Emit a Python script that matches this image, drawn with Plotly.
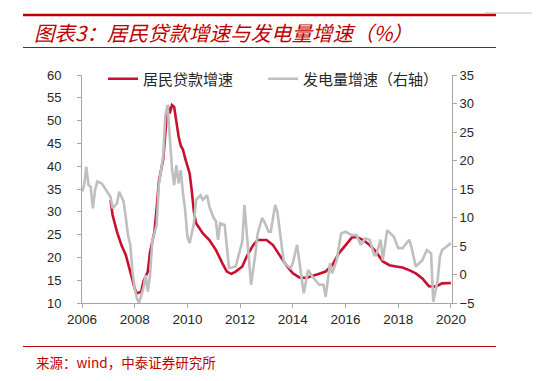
import plotly.graph_objects as go

# ---- data ----
loan_months = ["2007-02","2007-03","2007-05","2007-07","2007-09","2007-11","2008-01","2008-02","2008-04","2008-05",
               "2008-07","2008-08","2008-10","2008-11","2008-12","2009-02","2009-03","2009-04","2009-05","2009-06",
               "2009-07","2009-08","2009-09","2009-10","2009-11","2009-12","2010-02","2010-03","2010-04","2010-05",
               "2010-08","2010-11","2011-02","2011-05","2011-07","2011-09","2011-11","2012-02","2012-04","2012-07",
               "2012-09","2013-01","2013-04","2013-07","2013-10","2014-01","2014-04","2014-07","2014-10","2015-01",
               "2015-04","2015-07","2015-10","2016-01","2016-04","2016-06","2016-09","2016-12","2017-03","2017-06",
               "2017-09","2017-12","2018-03","2018-06","2018-09","2018-12","2019-03","2019-06","2019-09","2020-01"]
loan_growth = [32.6,29.3,25.6,22.7,20.5,16.9,13.2,12.1,12.5,14.7,
               16.9,21.2,25.6,30.8,36.6,41.7,48.3,53.4,51.6,53.4,
               53.0,49.4,46.5,44.5,43.6,41.7,38.4,34.8,30.0,27.5,
               25.3,23.8,21.6,18.7,16.9,16.4,16.9,18.0,20.2,22.7,
               23.8,23.8,22.7,20.5,18.3,16.5,15.6,15.5,15.9,16.4,
               16.9,18.3,20.9,22.7,24.4,24.5,23.8,22.7,21.2,19.1,
               18.3,18.0,17.8,17.2,16.5,15.4,13.7,13.6,14.3,14.4]

power_months = ["2006-01","2006-02","2006-03","2006-04","2006-05","2006-06","2006-07","2006-08","2006-10","2006-12",
                "2007-02","2007-03","2007-05","2007-06","2007-08","2007-09","2007-10","2007-11","2007-12","2008-01",
                "2008-02","2008-03","2008-05","2008-06","2008-07","2008-08","2008-09","2008-11","2008-12","2009-02",
                "2009-03","2009-04","2009-05","2009-06","2009-07","2009-08","2009-09","2009-10","2009-11","2009-12",
                "2010-01","2010-02","2010-04","2010-05","2010-07","2010-08","2010-10","2010-11","2011-01","2011-02",
                "2011-03","2011-04","2011-06","2011-07","2011-08","2011-11","2012-02","2012-03","2012-05","2012-06",
                "2012-08","2012-09","2012-11","2012-12","2013-02","2013-03","2013-05","2013-06","2013-08","2013-09",
                "2013-12","2014-01","2014-03","2014-04","2014-06","2014-08","2014-10","2015-01","2015-03","2015-04",
                "2015-06","2015-07","2015-09","2015-11","2016-01","2016-04","2016-06","2016-08","2016-10","2016-12",
                "2017-02","2017-03","2017-05","2017-06","2017-08","2017-11","2018-01","2018-03","2018-06","2018-07",
                "2018-09","2018-12","2019-02","2019-04","2019-05","2019-07","2019-08","2019-09","2019-11","2020-01"]
power_growth = [14.5,15.7,18.9,15.7,15.4,11.6,14.8,16.3,16.0,14.8,
                13.6,11.6,12.5,14.5,12.8,9.9,6.9,5.2,0.5,-2.4,
                -4.2,-5.0,-2.4,-0.1,-3.0,-0.1,5.8,8.7,15.7,21.0,
                28.0,29.7,23.3,18.6,15.7,19.2,16.0,18.3,14.2,11.3,
                6.6,5.5,9.0,13.1,13.9,13.1,13.9,11.9,9.9,9.3,
                6.1,9.0,8.7,4.3,1.1,1.4,5.8,12.2,3.7,-1.8,
                3.7,7.2,9.9,9.3,7.5,7.5,12.2,11.0,4.9,2.0,
                1.1,2.0,5.2,2.0,-3.3,0.8,-0.4,-1.8,-1.8,-3.9,
                2.0,0.2,2.5,7.2,7.5,6.9,6.9,5.2,6.3,6.1,
                3.4,3.4,6.1,2.5,7.8,6.6,4.6,4.6,6.1,4.9,
                1.4,2.5,4.3,3.7,-4.8,-1.0,3.1,4.3,4.9,5.5]

series_names = ["居民贷款增速", "发电量增速（右轴）"]
title_text = "图表3：居民贷款增速与发电量增速（%）"
source_text = "来源：wind，中泰证券研究所"

RED = "#C8102E"
GRAY = "#BFBFBF"
AXIS = "#A6A6A6"
TXT_RED = "#C00000"
CJK = "Noto Sans CJK SC"
NUM = "Liberation Sans, Arial, sans-serif"

fig = go.Figure()
fig.add_trace(go.Scatter(x=loan_months, y=loan_growth, name=series_names[0], mode="lines",
                         line=dict(color=RED, width=2.6), yaxis="y", legend="legend"))
fig.add_trace(go.Scatter(x=power_months, y=power_growth, name=series_names[1], mode="lines",
                         line=dict(color=GRAY, width=2.6), yaxis="y2", legend="legend2"))

axis_common = dict(showgrid=False, zeroline=False, showline=True, linecolor=AXIS, linewidth=1,
                   ticks="outside", ticklen=4, tickcolor=AXIS)
tick_font = dict(family=NUM, size=13, color="#262626")
legend_font = dict(family=CJK, size=15, color="#262626")


# reference pixel -> paper coords relative to plot domain
def px_x(px):
    return (px - 82) / 370.0


def px_y(py):
    return (303 - py) / 228.0


# the page body has an 8px margin, so the figure is 8px smaller and shifted
fig.update_layout(
    width=532, height=373,
    margin=dict(l=74, r=88, t=67, b=78, autoexpand=False),
    paper_bgcolor="white", plot_bgcolor="white",
    showlegend=True,
    legend=dict(orientation="h", x=px_x(103), y=px_y(79), xanchor="left", yanchor="middle",
                font=legend_font, bgcolor="rgba(0,0,0,0)", itemwidth=30),
    legend2=dict(orientation="h", x=px_x(263), y=px_y(79), xanchor="left", yanchor="middle",
                 font=legend_font, bgcolor="rgba(0,0,0,0)", itemwidth=30),
    xaxis=dict(type="date", range=["2006-01-01", "2020-01-16"], tick0="2006-01-01", dtick="M24",
               tickformat="%Y", tickfont=dict(family=NUM, size=13.5, color="#262626"), **axis_common),
    yaxis=dict(range=[10, 60], dtick=5, tickfont=tick_font, ticklabelstandoff=13, **axis_common),
    yaxis2=dict(range=[-5, 35], dtick=5, overlaying="y", side="right", tickfont=tick_font, **axis_common),
)

fig.add_shape(type="line", xref="paper", yref="paper", x0=px_x(23), x1=px_x(496), y0=px_y(15), y1=px_y(15),
              line=dict(color=TXT_RED, width=2.5))
fig.add_shape(type="line", xref="paper", yref="paper", x0=px_x(23), x1=px_x(496), y0=px_y(47.5), y1=px_y(47.5),
              line=dict(color=TXT_RED, width=1))
fig.add_shape(type="line", xref="paper", yref="paper", x0=px_x(485), x1=px_x(540), y0=px_y(13), y1=px_y(13),
              line=dict(color="#BFBFBF", width=1))
fig.add_shape(type="line", xref="paper", yref="paper", x0=px_x(23), x1=px_x(496), y0=px_y(346.5), y1=px_y(346.5),
              line=dict(color=TXT_RED, width=1))

fig.add_annotation(xref="paper", yref="paper", x=px_x(32), y=px_y(32), xanchor="left", yanchor="middle",
                   text="<i>" + title_text + "</i>", showarrow=False,
                   font=dict(family=CJK, size=20.5, color=TXT_RED))
fig.add_annotation(xref="paper", yref="paper", x=px_x(34), y=px_y(362), xanchor="left", yanchor="middle",
                   text=source_text, showarrow=False,
                   font=dict(family=CJK, size=13.5, color=TXT_RED))

fig.write_html("out.html")
